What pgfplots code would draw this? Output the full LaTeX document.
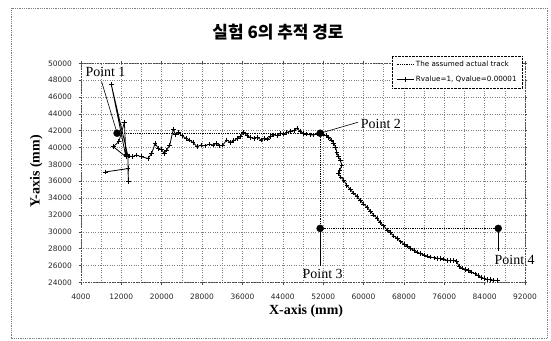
\documentclass[border=0pt]{standalone}
\usepackage{fontspec}
\setmainfont{Liberation Serif}
\newfontfamily\tickfont{DejaVu Sans}
\newfontfamily\krfont{Noto Sans CJK KR}
\usepackage{pgfplots}
\pgfplotsset{compat=1.18}
\begin{document}
\begin{tikzpicture}
\path (0bp,0bp) rectangle (551bp,341bp);
\draw[gray, densely dotted, line width=0.8bp] (11bp,3bp) rectangle (547bp,333bp);
\node[font=\krfont\bfseries\fontsize{17}{19}\selectfont] at (278bp,308.5bp) {실험 6의 추적 경로};
\begin{axis}[
  at={(81bp,58.7bp)}, anchor=south west,
  scale only axis, width=444bp, height=219bp,
  xmin=4000, xmax=92000, ymin=24000, ymax=50000,
  scaled ticks=false,
  /pgf/number format/assume math mode=true,
  /pgf/number format/set thousands separator={},
  xtick={4000,12000,...,92000},
  minor xtick={8000,16000,...,88000},
  ytick={24000,26000,...,50000},
  grid=both,
  major grid style={black!50, dotted, line width=0.5bp},
  minor grid style={black!50, dotted, line width=0.5bp},
  axis line style={black!70, densely dotted, line width=0.6bp},
  tick align=outside, major tick length=2.5bp, minor tick length=0bp,
  tick style={black!70, line width=0.5bp},
  ticklabel style={font=\tickfont\fontsize{7.5}{9}\selectfont, text=black!85},
  xticklabel style={yshift=-6bp},
  yticklabel style={xshift=-3bp},
  xlabel={X-axis (mm)},
  ylabel={Y-axis (mm)},
  label style={font=\bfseries\fontsize{14}{16}\selectfont},
  xlabel style={at={(axis description cs:0.507,-0.131)}, anchor=center},
  ylabel style={at={(axis description cs:-0.101,0.506)}, anchor=center},
  legend style={at={(0.995,1.035)}, anchor=north east, draw=black, densely dotted,
    font=\tickfont\fontsize{7.2}{9}\selectfont, fill=white, row sep=4.5bp,
    inner xsep=4bp, inner ysep=3bp},
  legend cell align=left,
  clip=false,
]
\addplot[black, densely dotted, line width=0.8bp] coordinates {
  (11150,41700) (51400,41700) (51400,30400) (86700,30400)
};
\addlegendentry{The assumed actual track}
\addplot[black, solid, line width=0.8bp, mark=+, mark size=2.3bp, mark options={solid}] coordinates {
(8800,37100) (13300,37500) (13400,36000) (13300,39000) (10000,47500) (12900,38900)
(10400,40100) (11500,40700) (12600,43000) (12900,39200) (13600,39000) (14200,38900)
(15000,39100) (16000,38900) (17300,38700) (18000,39300) (18700,40500) (19300,39900)
(19900,39800) (20500,39300) (21000,39700) (21600,40300) (22300,42200) (22700,41500)
(23300,41800) (24000,41400) (24800,41100) (25500,40900) (26200,40600) (27000,40100)
(27800,40300) (28600,40200) (29400,40400) (30200,40300) (30900,40500) (31500,40200)
(32100,40300) (32900,40900) (33600,40600) (34300,40800) (35000,41100) (35600,41300)
(36200,41800) (36900,41400) (37600,41200) (38300,41100) (39000,41200) (39700,40900)
(40400,41100) (41000,41000) (41600,41300) (42200,41500) (42900,41400) (43500,41700)
(44200,41600) (44800,41800) (45500,41900) (46200,42000) (46800,42300) (47400,41900)
(48100,41700) (48700,41600) (49400,41500) (50100,41500) (50800,41600) (51400,41700)
(52000,41600) (52600,41400) (53100,41200) (53600,40900) (54100,40500) (54500,40000)
(54700,39400) (55000,38900) (55400,38500) (55700,37900) (55300,37300) (55000,36900)
(55500,36500) (56100,36100) (56700,35500) (57400,35000) (58000,34600) (58700,34200)
(59400,33700) (60000,33300) (60700,32900) (61400,32400) (62000,32000) (62700,31600)
(63300,31100) (64000,30700) (64700,30200) (65300,29900) (66000,29500) (66700,29200)
(67400,28800) (68100,28500) (68700,28300) (69300,28000) (70000,27800) (70600,27600)
(71300,27400) (72000,27250) (72700,27100) (73300,27000) (74000,26900) (74600,26850)
(75300,26800) (75900,26750) (76600,26600) (77200,26560) (77800,26600) (78500,26450)
(78900,25900) (79500,25700) (80200,25500) (80800,25400) (81400,25200) (82100,25000)
(82700,24800) (83300,24600) (83900,24450) (84500,24350) (85100,24300) (85800,24250)
(86500,24200)
};
\addlegendentry{Rvalue=1, Qvalue=0.00001}
\addplot[only marks, black, mark=*, mark size=3.5bp, forget plot] coordinates {
  (11150,41700) (51400,41700) (51400,30400) (86700,30400)
};
\draw[black, line width=0.6bp] (axis cs:8100,47800) -- (axis cs:11150,41700);
\draw[black, line width=0.6bp] (axis cs:51400,41700) -- (axis cs:58900,43000);
\draw[black, line width=0.8bp] (axis cs:51400,30400) -- (axis cs:51400,25900);
\draw[black, line width=0.8bp] (axis cs:86700,30400) -- (axis cs:86700,27700);
\node[font=\fontsize{14}{16}\selectfont] at (axis cs:8860,48960) {Point 1};
\node[font=\fontsize{14}{16}\selectfont] at (axis cs:63450,42850) {Point 2};
\node[font=\fontsize{14}{16}\selectfont] at (axis cs:51900,24950) {Point 3};
\node[font=\fontsize{14}{16}\selectfont] at (axis cs:89950,26650) {Point 4};
\end{axis}
\end{tikzpicture}
\end{document}
